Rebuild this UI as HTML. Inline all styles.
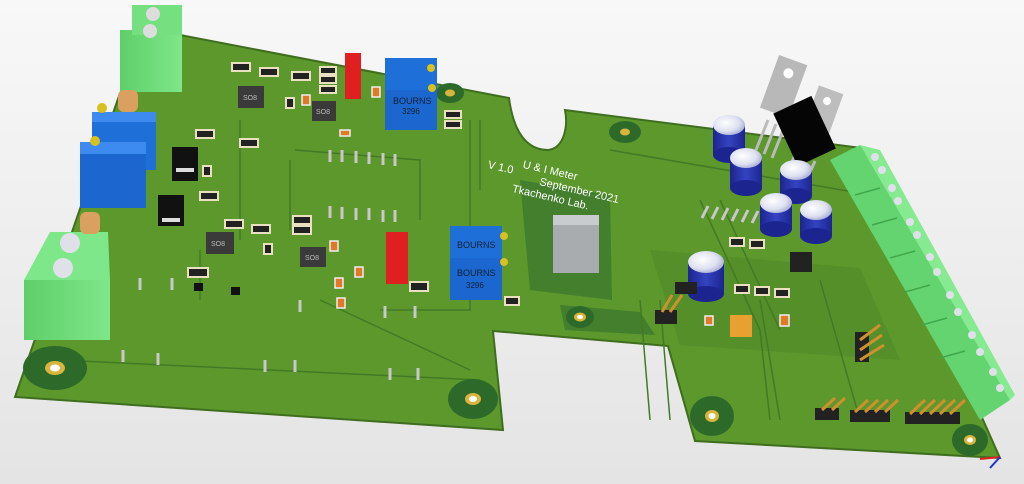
<!DOCTYPE html>
<html><head><meta charset="utf-8"><style>
html,body{margin:0;padding:0;width:1024px;height:484px;overflow:hidden;background:#f0f0f0}
svg{display:block}
text{font-family:"Liberation Sans",sans-serif}
</style></head><body>
<svg width="1024" height="484" viewBox="0 0 1024 484" xmlns="http://www.w3.org/2000/svg">
<defs>
<linearGradient id="bg" x1="0" y1="0" x2="0" y2="1"><stop offset="0" stop-color="#f8f8f8"/><stop offset="1" stop-color="#e4e4e4"/></linearGradient>
<linearGradient id="tb" x1="0" y1="0" x2="1" y2="0"><stop offset="0" stop-color="#5fcf6a"/><stop offset="1" stop-color="#7ee789"/></linearGradient>
<linearGradient id="capb" x1="0" y1="0" x2="1" y2="0"><stop offset="0" stop-color="#1c2490"/><stop offset="0.5" stop-color="#3444c0"/><stop offset="1" stop-color="#1c2490"/></linearGradient>
<radialGradient id="cap" cx="0.4" cy="0.4" r="0.7"><stop offset="0" stop-color="#fff"/><stop offset="0.6" stop-color="#dde0f0"/><stop offset="1" stop-color="#9aa0d0"/></radialGradient>
</defs>
<rect width="1024" height="484" fill="url(#bg)"/>
<!-- board -->
<path d="M180,35 L509,98 C512,120 520,150 548,150 C565,148 568,125 565,110 L862,148 L1000,458 L695,441 L668,346 L493,331 L503,430 L15,397 L120,93 Z" fill="#5c982c" stroke="#3f6e1f" stroke-width="2"/>
<path d="M520,180 L610,195 L612,300 L530,290 Z" fill="#437f2c"/>
<path d="M560,305 L640,312 L655,335 L565,330 Z" fill="#437f2c"/>
<path d="M650,250 L860,268 L900,360 L680,345 Z" fill="#548f2a"/>
<g stroke="#437a26" stroke-width="1.5" fill="none">
<path d="M290,160 L290,230 M295,150 L420,160 L420,220 M240,120 L240,240 M200,250 L200,300 M320,300 L470,370 M480,120 L480,190 M610,150 L900,200 M640,300 L650,420 M660,300 L670,420 M760,300 L780,420 M470,120 L470,310 L380,310 M60,360 L480,380"/>
<path d="M700,200 L760,330 L770,420 M720,200 L780,330 M820,280 L860,420"/>
</g>
<g>
<ellipse cx="55" cy="368" rx="32" ry="22" fill="#2d6a2a"/><ellipse cx="55" cy="368" rx="10" ry="7" fill="#d8b53c"/><ellipse cx="55" cy="368" rx="5" ry="3.5" fill="#fff"/>
<ellipse cx="473" cy="399" rx="25" ry="20" fill="#2d6a2a"/><ellipse cx="473" cy="399" rx="8" ry="6" fill="#d8b53c"/><ellipse cx="473" cy="399" rx="4" ry="3" fill="#fff"/>
<ellipse cx="580" cy="317" rx="14" ry="11" fill="#2d6a2a"/><ellipse cx="580" cy="317" rx="6" ry="4.5" fill="#d8b53c"/><ellipse cx="580" cy="317" rx="3" ry="2" fill="#fff"/>
<ellipse cx="712" cy="416" rx="22" ry="20" fill="#2d6a2a"/><ellipse cx="712" cy="416" rx="7" ry="6" fill="#d8b53c"/><ellipse cx="712" cy="416" rx="3.5" ry="3" fill="#fff"/>
<ellipse cx="625" cy="132" rx="16" ry="11" fill="#2d6a2a"/><ellipse cx="625" cy="132" rx="5" ry="3.5" fill="#d8b53c"/>
<ellipse cx="450" cy="93" rx="14" ry="10" fill="#2d6a2a"/><ellipse cx="450" cy="93" rx="5" ry="3.5" fill="#d8b53c"/>
<ellipse cx="970" cy="440" rx="18" ry="16" fill="#2d6a2a"/><ellipse cx="970" cy="440" rx="6" ry="5" fill="#d8b53c"/><ellipse cx="970" cy="440" rx="3" ry="2.5" fill="#fff"/>
</g>
<g fill="#fff" font-size="11" transform="rotate(13 540 180)">
<text x="520" y="172">U &amp; I Meter</text>
<text x="486" y="180">V 1.0</text>
<text x="540" y="185">September 2021</text>
<text x="515" y="198">Tkachenko Lab.</text>
</g>
<g fill="#222" stroke="#e8e0c0" stroke-width="2">
<rect x="232" y="63" width="18" height="8"/><rect x="260" y="68" width="18" height="8"/><rect x="292" y="72" width="18" height="8"/>
<rect x="320" y="67" width="16" height="7"/><rect x="320" y="76" width="16" height="7"/><rect x="320" y="86" width="16" height="7"/>
<rect x="196" y="130" width="18" height="8"/><rect x="240" y="139" width="18" height="8"/>
<rect x="200" y="192" width="18" height="8"/><rect x="225" y="220" width="18" height="8"/><rect x="252" y="225" width="18" height="8"/>
<rect x="293" y="216" width="18" height="8"/><rect x="293" y="226" width="18" height="8"/><rect x="188" y="268" width="20" height="9"/>
<rect x="410" y="282" width="18" height="9"/><rect x="505" y="297" width="14" height="8"/><rect x="445" y="111" width="16" height="7"/><rect x="445" y="121" width="16" height="7"/>
<rect x="730" y="238" width="14" height="8"/><rect x="750" y="240" width="14" height="8"/><rect x="735" y="285" width="14" height="8"/><rect x="755" y="287" width="14" height="8"/><rect x="775" y="289" width="14" height="8"/>
<rect x="203" y="166" width="8" height="10"/><rect x="264" y="244" width="8" height="10"/><rect x="286" y="98" width="8" height="10"/>
</g>
<g fill="#e07a2a" stroke="#eee" stroke-width="1.5">
<rect x="302" y="95" width="8" height="10"/><rect x="330" y="241" width="8" height="10"/><rect x="355" y="267" width="8" height="10"/><rect x="335" y="278" width="8" height="10"/><rect x="337" y="298" width="8" height="10"/><rect x="372" y="87" width="8" height="10"/><rect x="340" y="130" width="10" height="6"/><rect x="780" y="315" width="9" height="11"/><rect x="705" y="316" width="8" height="9"/>
</g>
<g fill="#3a3a3a">
<rect x="238" y="86" width="26" height="22"/><rect x="312" y="101" width="24" height="20"/><rect x="206" y="232" width="28" height="22"/><rect x="300" y="247" width="26" height="20"/>
</g>
<g fill="#bbb" font-size="7"><text x="243" y="100">SO8</text><text x="316" y="114">SO8</text><text x="211" y="246">SO8</text><text x="305" y="260">SO8</text></g>
<rect x="172" y="147" width="26" height="34" fill="#111"/><rect x="176" y="168" width="18" height="4" fill="#ddd"/>
<rect x="158" y="195" width="26" height="31" fill="#111"/><rect x="162" y="218" width="18" height="4" fill="#ddd"/>
<rect x="194" y="283" width="9" height="8" fill="#111"/><rect x="231" y="287" width="9" height="8" fill="#111"/>
<g stroke="#c8c8c8" stroke-width="3">
<path d="M330,162 L330,150 M342,162 L342,150 M356,163 L356,151 M369,164 L369,152 M383,165 L383,153 M395,166 L395,154"/>
<path d="M330,218 L330,206 M342,219 L342,207 M356,220 L356,208 M369,220 L369,208 M383,222 L383,210 M395,222 L395,210"/>
<path d="M140,290 L140,278 M172,290 L172,278 M265,372 L265,360 M295,372 L295,360 M123,362 L123,350 M158,365 L158,353 M390,380 L390,368 M418,380 L418,368 M300,312 L300,300 M385,318 L385,306 M415,318 L415,306"/>
<path d="M702,218 L708,206 M712,219 L718,207 M722,220 L728,208 M732,221 L738,209 M742,222 L748,210 M752,223 L758,211"/>
</g>
<g fill="#e0e0ea" stroke="#bbb"><circle cx="322" cy="152" r="0"/></g>
<!-- left terminal blocks -->
<rect x="120" y="30" width="62" height="62" fill="url(#tb)"/><rect x="132" y="5" width="50" height="30" fill="#74e07f"/>
<circle cx="153" cy="14" r="7" fill="#ddd"/><circle cx="150" cy="31" r="7" fill="#ddd"/>
<rect x="24" y="280" width="86" height="60" fill="url(#tb)"/><polygon points="50,232 108,232 110,280 24,280" fill="#7ee789"/>
<circle cx="70" cy="243" r="10" fill="#e0e0e8"/><circle cx="63" cy="268" r="10" fill="#e0e0e8"/>
<rect x="118" y="90" width="20" height="22" rx="6" fill="#d9a060"/><rect x="80" y="212" width="20" height="22" rx="6" fill="#d9a060"/>
<rect x="92" y="112" width="64" height="58" fill="#1f6fd8"/><rect x="92" y="112" width="64" height="10" fill="#3d8af0"/>
<rect x="80" y="142" width="66" height="66" fill="#1c66d0"/><rect x="80" y="142" width="66" height="12" fill="#3d8af0"/>
<circle cx="102" cy="108" r="5" fill="#d8c020"/><circle cx="95" cy="141" r="5" fill="#d8c020"/>
<rect x="385" y="58" width="52" height="40" fill="#1f6fd8"/><rect x="385" y="90" width="52" height="40" fill="#1c66d0"/>
<text x="393" y="104" font-size="9" fill="#123">BOURNS</text><text x="402" y="114" font-size="8" fill="#123">3296</text>
<circle cx="431" cy="68" r="4" fill="#d8c020"/><circle cx="432" cy="88" r="4" fill="#d8c020"/>
<rect x="450" y="226" width="52" height="40" fill="#1f6fd8"/><rect x="450" y="258" width="52" height="42" fill="#1c66d0"/>
<text x="457" y="248" font-size="9" fill="#123">BOURNS</text><text x="457" y="276" font-size="9" fill="#123">BOURNS</text><text x="466" y="288" font-size="8" fill="#123">3296</text>
<circle cx="504" cy="236" r="4" fill="#d8c020"/><circle cx="504" cy="262" r="4" fill="#d8c020"/>
<rect x="345" y="53" width="16" height="46" fill="#e02020"/><rect x="386" y="232" width="22" height="52" fill="#e02020"/>
<rect x="553" y="215" width="46" height="58" fill="#a8acae"/><rect x="553" y="215" width="46" height="10" fill="#c8cccf"/>
<!-- TO-220 -->
<g stroke="#bbb" stroke-width="3"><path d="M768,120 L756,150 M776,124 L764,154 M784,128 L772,158 M795,155 L783,182 M805,158 L793,185 M815,161 L803,188"/></g>
<g transform="rotate(20 782 88)"><rect x="768" y="58" width="30" height="56" fill="#b8b8b8"/><circle cx="783" cy="72" r="5" fill="#fff"/></g>
<g transform="rotate(20 822 112)"><rect x="810" y="88" width="26" height="50" fill="#bdbdbd"/><circle cx="823" cy="100" r="4" fill="#fff"/></g>
<g transform="rotate(-25 805 132)"><rect x="784" y="102" width="42" height="58" fill="#050505"/></g>
<!-- caps -->
<g>
<rect x="713" y="125" width="32" height="30" fill="url(#capb)"/><ellipse cx="729" cy="155" rx="16" ry="8" fill="#1c2490"/><ellipse cx="729" cy="125" rx="16" ry="10" fill="url(#cap)"/>
<rect x="730" y="158" width="32" height="30" fill="url(#capb)"/><ellipse cx="746" cy="188" rx="16" ry="8" fill="#1c2490"/><ellipse cx="746" cy="158" rx="16" ry="10" fill="url(#cap)"/>
<rect x="780" y="170" width="32" height="26" fill="url(#capb)"/><ellipse cx="796" cy="196" rx="16" ry="8" fill="#1c2490"/><ellipse cx="796" cy="170" rx="16" ry="10" fill="url(#cap)"/>
<rect x="760" y="203" width="32" height="26" fill="url(#capb)"/><ellipse cx="776" cy="229" rx="16" ry="8" fill="#1c2490"/><ellipse cx="776" cy="203" rx="16" ry="10" fill="url(#cap)"/>
<rect x="800" y="210" width="32" height="26" fill="url(#capb)"/><ellipse cx="816" cy="236" rx="16" ry="8" fill="#1c2490"/><ellipse cx="816" cy="210" rx="16" ry="10" fill="url(#cap)"/>
<rect x="688" y="262" width="36" height="32" fill="url(#capb)"/><ellipse cx="706" cy="294" rx="18" ry="8" fill="#1c2490"/><ellipse cx="706" cy="262" rx="18" ry="11" fill="url(#cap)"/>
</g>
<rect x="790" y="252" width="22" height="20" fill="#222"/>
<rect x="730" y="315" width="22" height="22" fill="#e8a030"/>
<polygon points="830,160 860,145 1010,400 980,420" fill="#64d470"/>
<polygon points="860,145 880,150 1015,395 1010,400" fill="#85ea90"/>
<g stroke="#3fa84c" stroke-width="1.5"><path d="M855,195 L880,188 M872,225 L897,218 M890,258 L915,251 M905,292 L930,285 M922,325 L947,318 M940,358 L965,351"/></g>
<g fill="#e0e0ea"><circle cx="875" cy="157" r="4"/><circle cx="882" cy="170" r="4"/><circle cx="892" cy="188" r="4"/><circle cx="898" cy="201" r="4"/><circle cx="910" cy="222" r="4"/><circle cx="917" cy="235" r="4"/><circle cx="930" cy="257" r="4"/><circle cx="937" cy="272" r="4"/><circle cx="950" cy="295" r="4"/><circle cx="958" cy="312" r="4"/><circle cx="972" cy="335" r="4"/><circle cx="980" cy="352" r="4"/><circle cx="993" cy="372" r="4"/><circle cx="1000" cy="388" r="4"/></g>
<g fill="#222"><rect x="655" y="310" width="22" height="14"/><rect x="675" y="282" width="22" height="12"/><rect x="855" y="332" width="14" height="30"/>
<rect x="815" y="408" width="24" height="12"/><rect x="850" y="410" width="40" height="12"/><rect x="905" y="412" width="55" height="12"/></g>
<g stroke="#d09030" stroke-width="3">
<path d="M662,312 L672,295 M670,312 L682,295 M860,340 L880,325 M860,350 L882,335 M860,360 L884,345"/>
<path d="M822,410 L835,398 M832,410 L845,398 M855,412 L868,400 M865,412 L878,400 M875,412 L888,400 M885,412 L898,400 M910,414 L925,400 M920,414 L935,400 M930,414 L945,400 M940,414 L955,400 M950,414 L965,400"/>
</g>
<g stroke-width="2"><path d="M980,459 L1000,457" stroke="#e02020"/><path d="M1000,457 L990,468" stroke="#2030d0"/></g>
</svg>
</body></html>
